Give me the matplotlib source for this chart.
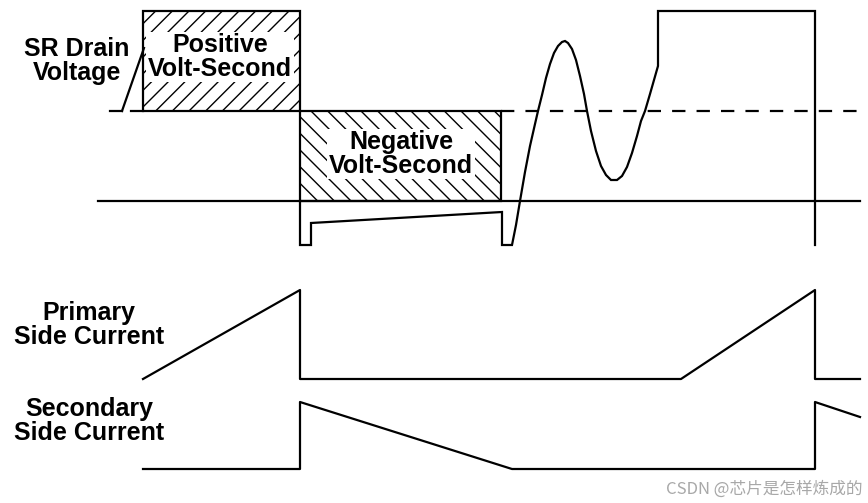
import matplotlib
matplotlib.use("Agg")
import matplotlib.pyplot as plt
from matplotlib.patches import Rectangle

plt.rcParams['hatch.linewidth'] = 1.0

# ---- waveform data (pixel-like units, y grows downward) ----
# levels
v_top = 11
v_zero = 111
v_neg = 201
v_bottom = 245

# volt-second boxes: (x0, x1, y_top, y_bottom)
pos_box = (143, 300, v_top, v_zero)
neg_box = (300, 501, v_zero, v_neg)

# lower drain trace + ringing + next on-time
trace_x = [300, 300, 311, 311, 502, 502, 512, 516, 520, 525, 530, 535, 538, 542, 546, 550,
           554, 558, 562, 565, 568, 572, 576, 580, 584, 587, 591, 596, 601, 606, 611, 617,
           622, 627, 632, 637, 641, 645, 650, 654, 658, 658, 815, 815]
trace_y = [201, 245, 245, 223, 212, 245, 245, 225, 201, 172, 146, 124, 111, 95, 78, 64,
           53, 46, 42, 41, 43, 49, 60, 76, 94, 111, 131, 151, 166, 175, 180, 180,
           176, 167, 153, 136, 121, 111, 94, 80, 66, 11, 11, 245]

# primary / secondary currents
prim_x = [143, 300, 300, 681, 815, 815, 860]
prim_y = [379, 290, 379, 379, 290, 379, 379]
sec_x = [143, 300, 300, 512, 815, 815, 860]
sec_y = [469, 469, 402, 469, 469, 402, 417]

lw = 1.6
fig = plt.figure(figsize=(8.68, 5.03), dpi=100)
ax = fig.add_axes([0, 0, 1, 1])
ax.set_xlim(0, 868)
ax.set_ylim(503, 0)
ax.axis("off")

# hatched boxes
for box, hatch in [(pos_box, '//'), (neg_box, '\\\\')]:
    x0, x1, y0, y1 = box
    ax.add_patch(Rectangle((x0, y0), x1 - x0, y1 - y0, fill=False, hatch=hatch,
                           edgecolor="black", linewidth=lw))

ax.plot(trace_x, trace_y, color="black", lw=lw, solid_joinstyle="miter")
ax.plot([98, 860], [v_neg, v_neg], color="black", lw=lw)
ax.plot([501, 860], [v_zero, v_zero], color="black", lw=lw, dashes=(6, 5))
ax.plot([110, 122], [v_zero, v_zero], color="black", lw=lw)
ax.plot([131, 143], [v_zero, v_zero], color="black", lw=lw)
ax.plot([122, 144], [v_zero, 48], color="black", lw=lw)

ax.plot(prim_x, prim_y, color="black", lw=lw)
ax.plot(sec_x, sec_y, color="black", lw=lw)

# labels
bold = dict(fontfamily="Liberation Sans", fontweight="bold", ha="center", va="center",
            linespacing=0.98)
white = dict(facecolor="white", edgecolor="none", pad=1)
ax.text(77, 61, "SR Drain\nVoltage", fontsize=18, **bold)
ax.text(220, 57, "Positive\nVolt-Second", fontsize=18, bbox=white, **bold)
ax.text(401, 154, "Negative\nVolt-Second", fontsize=18, bbox=white, **bold)
ax.text(89, 325, "Primary\nSide Current", fontsize=18, **bold)
ax.text(89, 421, "Secondary\nSide Current", fontsize=18, **bold)

ax.text(862, 489, "CSDN @芯片是怎样炼成的", fontsize=12, color="#a8a8a8",
        ha="right", va="center", family=["Noto Sans CJK SC", "DejaVu Sans"])

fig.savefig("out.png", dpi=100)
